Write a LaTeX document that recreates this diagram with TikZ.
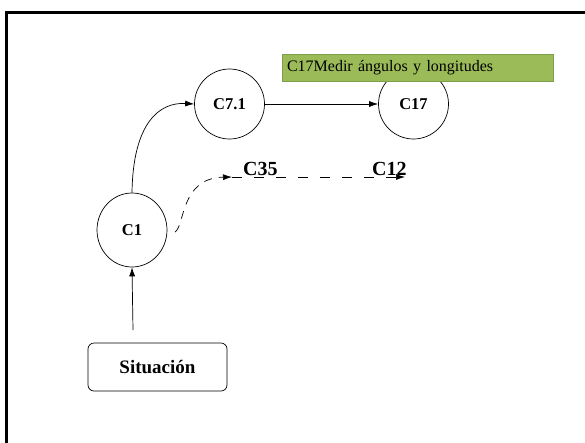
\documentclass[tikz,border=0pt]{standalone}
\usepackage{fontspec}
\setmainfont{Liberation Serif}
\usetikzlibrary{arrows.meta,shapes.geometric}
\definecolor{olivefill}{RGB}{155,187,89}
\definecolor{olivedraw}{RGB}{128,160,72}
\begin{document}
\begin{tikzpicture}[x=1pt,y=-1pt,
  concept/.style={draw,circle,minimum size=70pt,inner sep=0pt,line width=0.7pt,font=\fontsize{16.5}{18}\selectfont\bfseries},
  startbox/.style={draw,rounded corners=6pt,minimum width=139pt,minimum height=48pt,line width=0.7pt,font=\fontsize{19}{21}\selectfont\bfseries},
  tag/.style={fill=olivefill,draw=olivedraw,line width=1pt,minimum width=271pt,minimum height=27pt,inner sep=5pt,font=\fontsize{16}{18}\selectfont,text width=261pt,align=left},
  biglabel/.style={font=\fontsize{20}{22}\selectfont\bfseries,inner sep=0pt},
  arr/.style={-{Latex[length=9pt,width=6pt]},line width=0.7pt},
  darr/.style={arr,dash pattern=on 10pt off 12pt},
]
% canvas and frame
\useasboundingbox (0,0) rectangle (585,442);
\fill[white] (0,0) rectangle (585,442);
\draw[line width=3pt] (6,445) -- (6,12) -- (590,12);

% nodes
\node[concept] (c71) at (229.5,104) {C7.1};
\node[concept] (c17) at (413.5,104) {C17};
\node[draw,ellipse,minimum width=70pt,minimum height=74pt,inner sep=0pt,line width=0.7pt,font=\fontsize{16.5}{18}\selectfont\bfseries] (c1) at (132,230) {C1};
\node[startbox] (sit) at (157.5,367) {Situación};
\node[tag] (note) at (417.5,67.5) {C17Medir ángulos y longitudes};
\node[biglabel,anchor=base west] (c35) at (243,175) {C35};
\node[biglabel,anchor=base west] (c12) at (372,175) {C12};

% dashed branch points
\coordinate (d0) at (175,232);
\coordinate (d1) at (232,177);
\coordinate (d2) at (405,177);
\coordinate (s0) at (133,330);

% connectors
\draw[arr] (s0) -- (c1.south);
\draw[arr] (c1.north) .. controls (133,122) and (160,102) .. (c71.west);
\draw[arr] (c71) -- (c17);
\draw[arr,dash pattern=on 8pt off 7pt] (d0) .. controls (185,226) and (180,178) .. (d1);
\draw[darr] (d1) -- (d2);
\end{tikzpicture}
\end{document}
